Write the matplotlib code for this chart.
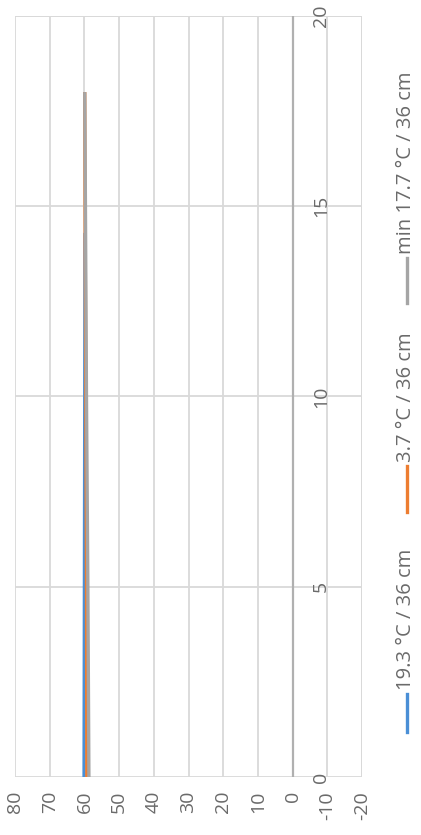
import matplotlib.pyplot as plt
from matplotlib.lines import Line2D

# chart is drawn turned a quarter turn: values run right-to-left, x runs upward
x_blue = [0, 5, 10, 14.3]
v_blue = [60.1, 60.0, 59.9, 59.8]
x_orange = [0, 5, 10, 15, 18]
v_orange = [59.3, 59.4, 59.6, 59.8, 59.9]
x_gray = [0, 5, 10, 15, 18]
v_gray = [58.7, 59.0, 59.4, 59.7, 59.9]

series_names = ['19.3 °C / 36 cm', '3.7 °C / 36 cm', 'min 17.7 °C / 36 cm']
series_colors = ['#4a8fd6', '#ed7d31', '#a5a5a5']

value_ticks = [80, 70, 60, 50, 40, 30, 20, 10, 0, -10, -20]
x_ticks = [0, 5, 10, 15, 20]

plt.rcParams['font.family'] = ['Open Sans', 'DejaVu Sans']
text_color = '#6a6a6a'

fig = plt.figure(figsize=(4.21, 8.35), dpi=100)
ax = fig.add_axes([15 / 421, 58 / 835, 347 / 421, 761 / 835])

ax.plot(v_blue, x_blue, color=series_colors[0], lw=2.4, solid_capstyle='butt')
ax.plot(v_orange, x_orange, color=series_colors[1], lw=2.4, solid_capstyle='butt')
ax.plot(v_gray, x_gray, color=series_colors[2], lw=2.4, solid_capstyle='butt')

ax.set_xlim(80, -20)
ax.set_ylim(0, 20)
ax.set_xticks(value_ticks)
ax.set_xticklabels([str(v) for v in value_ticks], rotation=90, color=text_color, fontsize=14)
ax.set_yticks(x_ticks)
ax.tick_params(axis='x', length=0, pad=10)
ax.tick_params(axis='y', length=0, labelleft=False)
ax.grid(True, color='#d9d9d9', lw=1.3)
ax.set_axisbelow(True)
for s in ax.spines.values():
    s.set_visible(False)
ax.axvline(0, color='#b0b0b0', lw=1.6, zorder=1.5)
ax.axvline(-20, color='#d9d9d9', lw=1.3, zorder=1)
ax.axhline(20, color='#d9d9d9', lw=1.3, zorder=1)

for k in x_ticks:
    ax.text(-8.2, k, str(k), rotation=90, ha='center', va='center',
            color=text_color, fontsize=14)

# legend, turned with the chart
leg_x = 407 / 421
leg_lines = [(732, 694), (512, 466), (303, 258)]
leg_text_start = [690, 462, 254]
for name, col, (y0, y1), ty in zip(series_names, series_colors, leg_lines, leg_text_start):
    fig.add_artist(Line2D([leg_x, leg_x], [1 - y0 / 835, 1 - y1 / 835],
                          color=col, lw=2.4, transform=fig.transFigure))
    fig.text(leg_x - 1 / 421, 1 - ty / 835, name, rotation=90, ha='center', va='bottom',
             color=text_color, fontsize=14.5)

fig.savefig('out.png', dpi=100, facecolor='white')
